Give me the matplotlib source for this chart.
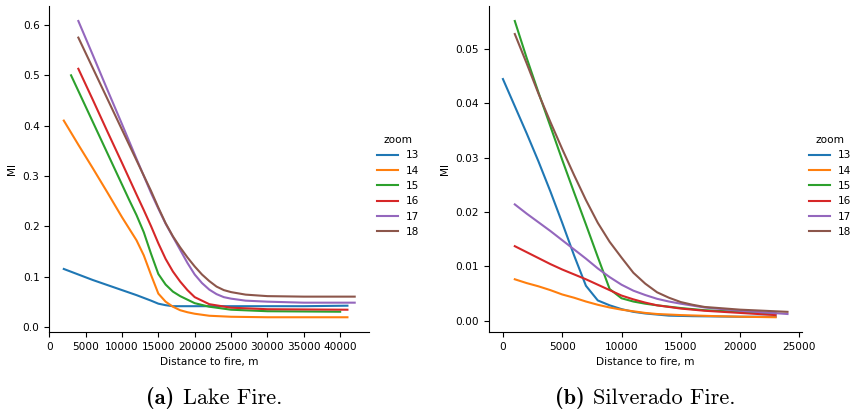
import os
import matplotlib
matplotlib.use("Agg")
import matplotlib.pyplot as plt
from matplotlib.font_manager import FontProperties

plt.rcParams['font.size'] = 7.6

zooms = [13, 14, 15, 16, 17, 18]
colors = ['#1f77b4', '#ff7f0e', '#2ca02c', '#d62728', '#9467bd', '#8c564b']

# (a) Lake Fire
lake_x13 = [2000, 4000, 6000, 8000, 10000, 12000, 14000, 15000, 16000, 17000, 20000, 25000, 30000, 35000, 41000]
lake_y13 = [0.115, 0.104, 0.093, 0.083, 0.073, 0.063, 0.052, 0.046, 0.043, 0.041, 0.041, 0.041, 0.041, 0.041, 0.042]
lake_x14 = [2000, 4000, 6000, 8000, 10000, 11000, 12000, 13000, 14000, 15000, 16000, 17000, 18000, 19000, 20000, 22000, 25000, 30000, 41000]
lake_y14 = [0.41, 0.362, 0.315, 0.267, 0.218, 0.195, 0.172, 0.142, 0.103, 0.066, 0.05, 0.04, 0.033, 0.029, 0.026, 0.022, 0.020, 0.019, 0.019]
lake_x15 = [3000, 5000, 7000, 9000, 11000, 12000, 13000, 14000, 15000, 16000, 17000, 18000, 20000, 22000, 25000, 30000, 40000]
lake_y15 = [0.50, 0.438, 0.376, 0.314, 0.252, 0.222, 0.188, 0.145, 0.105, 0.084, 0.070, 0.061, 0.047, 0.040, 0.034, 0.031, 0.030]
lake_x16 = [4000, 6000, 8000, 10000, 12000, 13000, 14000, 15000, 16000, 17000, 18000, 19000, 20000, 22000, 25000, 30000, 41000]
lake_y16 = [0.513, 0.451, 0.388, 0.326, 0.263, 0.232, 0.20, 0.166, 0.135, 0.11, 0.09, 0.073, 0.059, 0.045, 0.038, 0.035, 0.034]
lake_x17 = [4000, 6000, 8000, 10000, 12000, 14000, 15000, 16000, 17000, 18000, 19000, 20000, 21000, 22000, 23000, 24000, 25000, 27000, 30000, 35000, 42000]
lake_y17 = [0.608, 0.54, 0.471, 0.403, 0.334, 0.266, 0.235, 0.205, 0.179, 0.153, 0.127, 0.104, 0.087, 0.074, 0.065, 0.059, 0.056, 0.052, 0.050, 0.048, 0.048]
lake_x18 = [4000, 6000, 8000, 10000, 12000, 14000, 15000, 16000, 17000, 18000, 19000, 20000, 21000, 22000, 23000, 24000, 25000, 27000, 30000, 35000, 42000]
lake_y18 = [0.575, 0.514, 0.453, 0.392, 0.331, 0.27, 0.237, 0.206, 0.18, 0.158, 0.138, 0.12, 0.104, 0.091, 0.08, 0.073, 0.069, 0.064, 0.061, 0.060, 0.060]

# (b) Silverado Fire
silv_x13 = [0, 1000, 2000, 3000, 4000, 5000, 6000, 7000, 8000, 9000, 10000, 11000, 12000, 14000, 16000, 20000, 23000]
silv_y13 = [0.0445, 0.0395, 0.0345, 0.0293, 0.0238, 0.018, 0.012, 0.0064, 0.0037, 0.0028, 0.0021, 0.0016, 0.0013, 0.0009, 0.0008, 0.0007, 0.0007]
silv_x14 = [1000, 2000, 3000, 4000, 5000, 6000, 7000, 8000, 9000, 10000, 11000, 12000, 13000, 15000, 18000, 20000, 23000]
silv_y14 = [0.0076, 0.0069, 0.0063, 0.0056, 0.0048, 0.0042, 0.0035, 0.0029, 0.0024, 0.0020, 0.0017, 0.0014, 0.0012, 0.0010, 0.0008, 0.0007, 0.0006]
silv_x15 = [1000, 2000, 3000, 4000, 5000, 6000, 7000, 8000, 9000, 10000, 11000, 12000, 13000, 15000, 17000, 20000, 23000]
silv_y15 = [0.0552, 0.0484, 0.042, 0.0358, 0.0296, 0.0236, 0.0177, 0.0117, 0.0058, 0.0041, 0.0035, 0.0031, 0.0028, 0.0023, 0.0019, 0.0016, 0.0013]
silv_x16 = [1000, 2000, 3000, 4000, 5000, 6000, 7000, 8000, 9000, 10000, 11000, 12000, 13000, 14000, 15000, 17000, 20000, 23000]
silv_y16 = [0.0137, 0.0126, 0.0115, 0.0104, 0.0094, 0.0085, 0.0076, 0.0066, 0.0056, 0.0046, 0.0039, 0.0033, 0.0028, 0.0025, 0.0022, 0.0018, 0.0014, 0.0010]
silv_x17 = [1000, 2000, 3000, 4000, 5000, 6000, 7000, 8000, 9000, 10000, 11000, 12000, 13000, 14000, 15000, 17000, 20000, 24000]
silv_y17 = [0.0214, 0.0197, 0.0181, 0.0165, 0.0148, 0.0131, 0.0114, 0.0096, 0.0080, 0.0066, 0.0055, 0.0047, 0.0040, 0.0035, 0.0031, 0.0024, 0.0018, 0.0012]
silv_x18 = [1000, 2000, 3000, 4000, 5000, 6000, 7000, 8000, 9000, 10000, 11000, 12000, 13000, 14000, 15000, 16000, 17000, 20000, 24000]
silv_y18 = [0.0528, 0.0474, 0.0418, 0.0366, 0.0316, 0.0268, 0.0222, 0.0180, 0.0145, 0.0116, 0.0088, 0.0068, 0.0052, 0.0042, 0.0034, 0.0029, 0.0025, 0.0020, 0.0016]

lake = [(lake_x13, lake_y13), (lake_x14, lake_y14), (lake_x15, lake_y15),
        (lake_x16, lake_y16), (lake_x17, lake_y17), (lake_x18, lake_y18)]
silv = [(silv_x13, silv_y13), (silv_x14, silv_y14), (silv_x15, silv_y15),
        (silv_x16, silv_y16), (silv_x17, silv_y17), (silv_x18, silv_y18)]

# computer modern fonts shipped with matplotlib, for the latex-like captions
ttf_dir = os.path.join(matplotlib.get_data_path(), "fonts", "ttf")
cm_bold = FontProperties(fname=os.path.join(ttf_dir, "cmb10.ttf"), size=16)
cm_reg = FontProperties(fname=os.path.join(ttf_dir, "cmr10.ttf"), size=16)

fig = plt.figure(figsize=(8.52, 4.12), dpi=100)
ax1 = fig.add_axes([0.0578, 0.194, 0.3756, 0.791])
ax2 = fig.add_axes([0.5736, 0.194, 0.3674, 0.791])

def draw(ax, series, leg_x, tag, name, tag_x, name_x):
    for (xs, ys), z, c in zip(series, zooms, colors):
        ax.plot(xs, ys, color=c, lw=1.5, label=str(z))
    ax.spines['top'].set_visible(False)
    ax.spines['right'].set_visible(False)
    ax.set_xlabel("Distance to fire, m")
    ax.set_ylabel("MI")
    fig.legend(handles=ax.get_lines(), title="zoom", frameon=False,
               loc='upper left', bbox_to_anchor=(leg_x, 0.695),
               fontsize=7.6, title_fontsize=7.6)
    fig.text(tag_x, 0.02, tag, ha='right', va='baseline', fontproperties=cm_bold)
    fig.text(name_x, 0.02, name, ha='left', va='baseline', fontproperties=cm_reg)

draw(ax1, lake, 0.431, "(a)", "Lake Fire.", 174 / 852, 183 / 852)
draw(ax2, silv, 0.938, "(b)", "Silverado Fire.", 585 / 852, 593 / 852)

fig.savefig("out.png", dpi=100)
